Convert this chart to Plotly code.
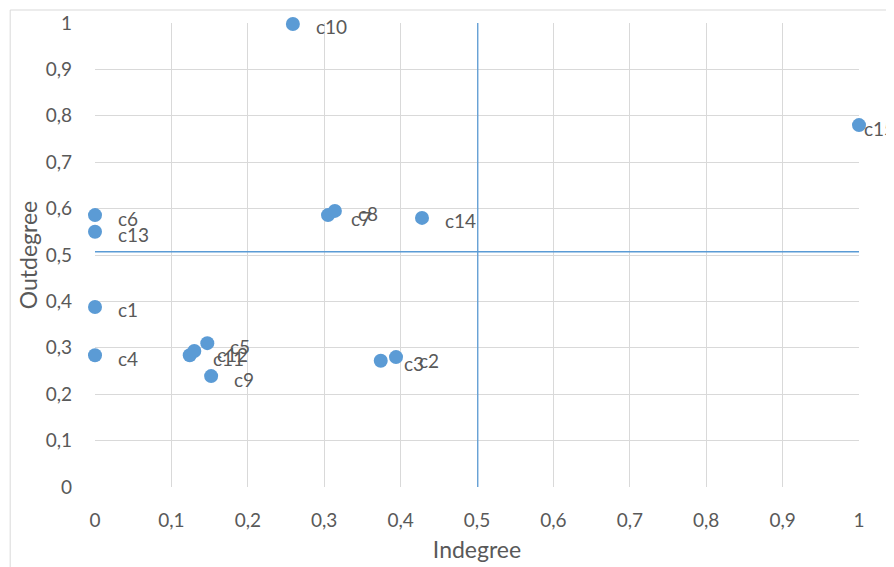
import plotly.graph_objects as go

labels = ["c1", "c2", "c3", "c4", "c5", "c6", "c7", "c8", "c9", "c10", "c11", "c12", "c13", "c14", "c15"]
indegree = [0.0, 0.394, 0.374, 0.0, 0.147, 0.0, 0.305, 0.314, 0.152, 0.259, 0.124, 0.130, 0.0, 0.428, 1.0]
outdegree = [0.388, 0.280, 0.272, 0.284, 0.310, 0.586, 0.586, 0.595, 0.239, 0.998, 0.284, 0.293, 0.550, 0.580, 0.780]

x_threshold = 0.501
y_threshold = 0.507

blue = "#5b9bd5"
grey = "#595959"
font_family = "Lato, 'Open Sans', sans-serif"

fig = go.Figure()

fig.add_trace(go.Scatter(x=[x_threshold, x_threshold], y=[0, 1], mode="lines",
                         line=dict(color=blue, width=1.3), hoverinfo="skip", showlegend=False))
fig.add_trace(go.Scatter(x=[0, 1], y=[y_threshold, y_threshold], mode="lines",
                         line=dict(color=blue, width=1.3), hoverinfo="skip", showlegend=False))

fig.add_trace(go.Scatter(x=indegree, y=outdegree, mode="markers",
                         marker=dict(color=blue, size=14), showlegend=False, cliponaxis=False))

for lab, xv, yv in zip(labels, indegree, outdegree):
    shift = 3 if xv >= 1 else 21
    fig.add_annotation(x=xv, y=yv, text=lab, showarrow=False, xanchor="left", yanchor="middle",
                       xshift=shift, yshift=-3, font=dict(family=font_family, size=19, color=grey))

# outer chart border (left and top visible)
fig.add_shape(type="line", xref="paper", yref="paper", x0=-0.111, x1=-0.111, y0=-0.2, y1=1.028,
              line=dict(color="#d9d9d9", width=1))
fig.add_shape(type="line", xref="paper", yref="paper", x0=-0.111, x1=1.1, y0=1.028, y1=1.028,
              line=dict(color="#d9d9d9", width=1))

fig.update_layout(
    width=886, height=559,
    margin=dict(l=87, r=35, t=15, b=80, autoexpand=False),
    paper_bgcolor="white", plot_bgcolor="white",
    separators=", ",
    font=dict(family=font_family, color=grey, size=17),
    xaxis=dict(range=[0, 1], dtick=0.1, tickformat=".1~f", showgrid=True, gridcolor="#d9d9d9",
               gridwidth=1, zeroline=False, showline=False, ticks="", automargin=False,
               ticklabelstandoff=20,
               title=dict(text="Indegree", font=dict(size=23, color=grey), standoff=11),
               tickfont=dict(size=19, color=grey)),
    yaxis=dict(range=[0, 1], dtick=0.1, tickformat=".1~f", showgrid=True, gridcolor="#d9d9d9",
               gridwidth=1, zeroline=False, showline=False, ticks="", automargin=False,
               ticklabelstandoff=22,
               title=dict(text="Outdegree", font=dict(size=23, color=grey), standoff=1),
               tickfont=dict(size=19, color=grey)),
)

fig.write_html("out.html")
